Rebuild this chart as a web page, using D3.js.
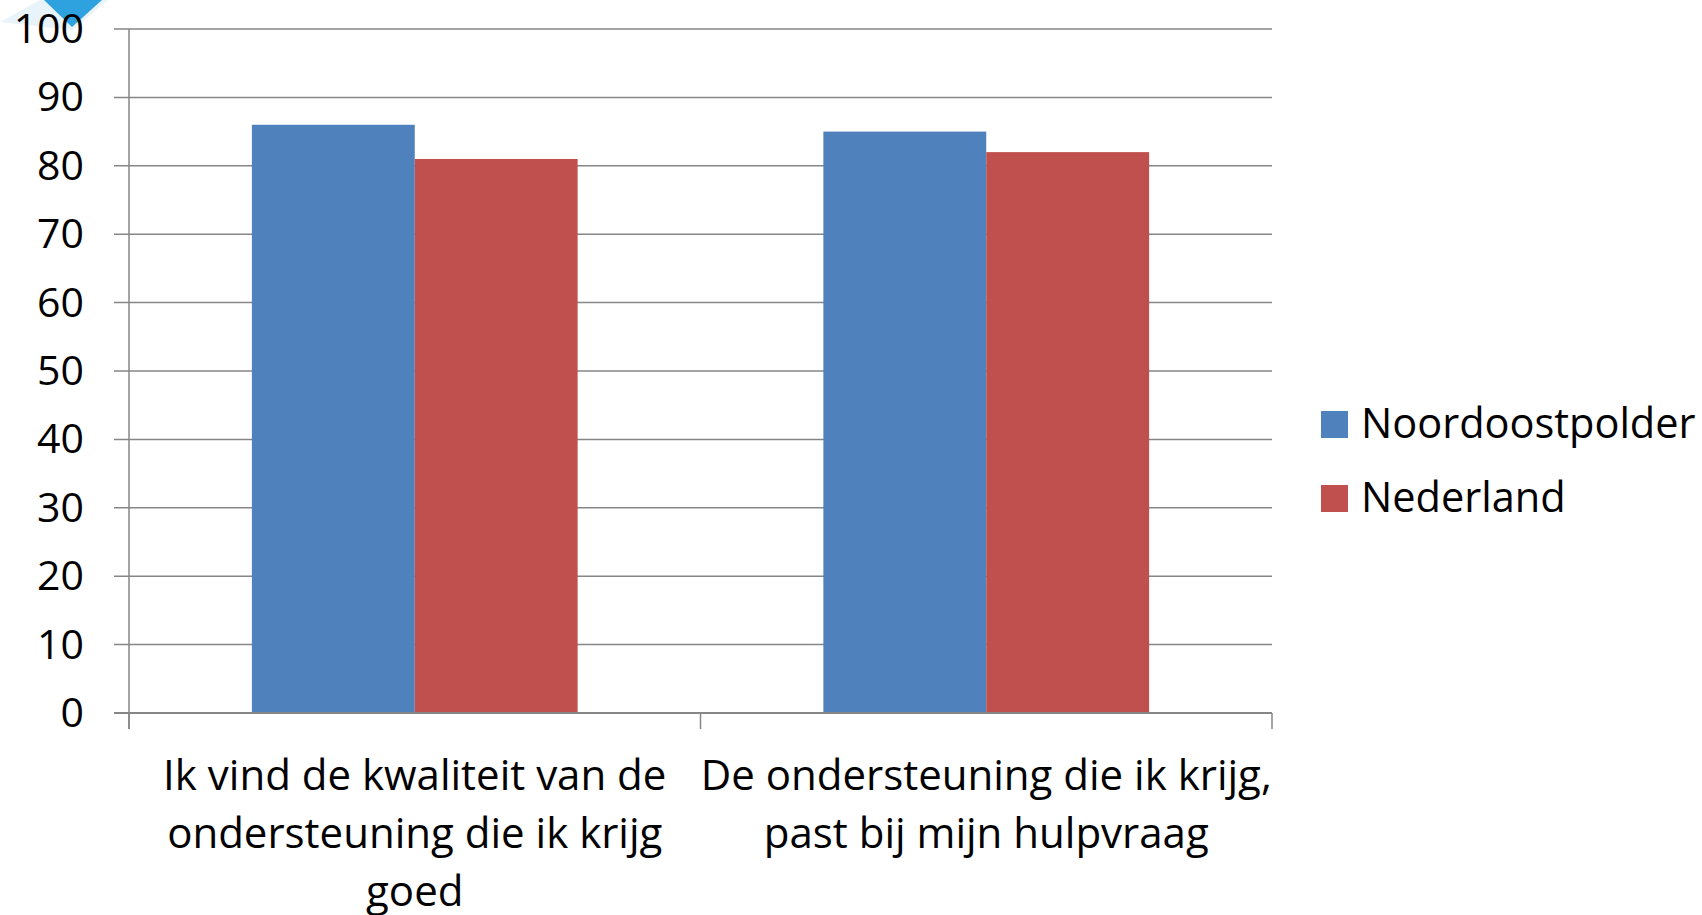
<!DOCTYPE html>
<html>
<head>
<meta charset="utf-8">
<script src="https://cdn.jsdelivr.net/npm/d3@7"></script>
<style>
  body { margin: 0; background: #fff; }
  svg text { font-family: "Open Sans", "Noto Sans", sans-serif; fill: #000; }
</style>
</head>
<body>
<div id="chart"></div>
<script>
// data
var categories = [
    ["Ik vind de kwaliteit van de", "ondersteuning die ik krijg", "goed"],
    ["De ondersteuning die ik krijg,", "past bij mijn hulpvraag"]
];
var seriesNames = ["Noordoostpolder", "Nederland"];
var noordoostpolder = [86, 85];
var nederland = [81, 82];
var yTicks = [0, 10, 20, 30, 40, 50, 60, 70, 80, 90, 100];
var colors = ["#4F81BD", "#C0504D"];

var W = 1702, H = 915;
var margin = {top: 29, right: 430, bottom: 202, left: 129},
    width = W - margin.left - margin.right,
    height = H - margin.top - margin.bottom;

var svg = d3.select("#chart").append("svg")
    .attr("width", W)
    .attr("height", H);

// the little blue corner shape in the top left
svg.append("polygon")
    .attr("points", "0,22 40,0 108,0 72,30")
    .style("fill", "#e9f3fa");
svg.append("polygon")
    .attr("points", "44,0 102,0 72,27")
    .style("fill", "#2da2de");

var g = svg.append("g")
    .attr("transform", "translate(" + margin.left + "," + margin.top + ")");

var x = d3.scaleBand()
    .domain(d3.range(categories.length))
    .range([0, width])
    .paddingInner(0.43)
    .paddingOuter(0.215);

var x1 = d3.scaleBand()
    .domain(d3.range(seriesNames.length))
    .range([0, x.bandwidth()]);

var y = d3.scaleLinear()
    .domain([0, 100])
    .range([height, 0]);

// gridlines + tick marks
g.selectAll(".grid")
    .data(yTicks)
    .enter().append("line")
    .attr("x1", -15)
    .attr("x2", width)
    .attr("y1", function(d) { return y(d); })
    .attr("y2", function(d) { return y(d); })
    .style("stroke", "#868686")
    .style("stroke-width", 1.5);

g.selectAll(".ylab")
    .data(yTicks)
    .enter().append("text")
    .text(function(d) { return d; })
    .attr("text-anchor", "end")
    .attr("x", -45)
    .attr("y", function(d) { return y(d) + 14; })
    .style("font-size", "41px");

// bars
var series = [noordoostpolder, nederland];
series.forEach(function(vals, s) {
    g.selectAll(".bar" + s)
        .data(vals)
        .enter().append("rect")
        .attr("x", function(d, i) { return x(i) + x1(s); })
        .attr("width", x1.bandwidth())
        .attr("y", function(d) { return y(d); })
        .attr("height", function(d) { return height - y(d); })
        .style("fill", colors[s]);
});

// axes lines
g.append("line")
    .attr("x1", 0).attr("x2", 0)
    .attr("y1", 0).attr("y2", height + 16)
    .style("stroke", "#868686").style("stroke-width", 1.5);
g.append("line")
    .attr("x1", -15).attr("x2", width)
    .attr("y1", height).attr("y2", height)
    .style("stroke", "#868686").style("stroke-width", 2);

var step = x.step();
var catTicks = d3.range(categories.length + 1);
g.selectAll(".xtick")
    .data(catTicks)
    .enter().append("line")
    .attr("x1", function(d) { return d * step; })
    .attr("x2", function(d) { return d * step; })
    .attr("y1", height)
    .attr("y2", height + 16)
    .style("stroke", "#868686").style("stroke-width", 1.5);

// category labels
categories.forEach(function(lines, i) {
    var t = g.append("text")
        .attr("text-anchor", "middle")
        .attr("x", x(i) + x.bandwidth() / 2)
        .attr("y", height + 77)
        .style("font-size", "42px");
    lines.forEach(function(l, k) {
        t.append("tspan")
            .attr("x", x(i) + x.bandwidth() / 2)
            .attr("dy", k == 0 ? 0 : 58)
            .text(l);
    });
});

// legend
var legend = svg.append("g")
    .attr("transform", "translate(1321,411)");
seriesNames.forEach(function(name, i) {
    legend.append("rect")
        .attr("x", 0)
        .attr("y", i * 74)
        .attr("width", 27)
        .attr("height", 27)
        .style("fill", colors[i]);
    legend.append("text")
        .attr("x", 40)
        .attr("y", i * 74 + 27)
        .text(name)
        .style("font-size", "41.5px");
});
</script>
</body>
</html>
